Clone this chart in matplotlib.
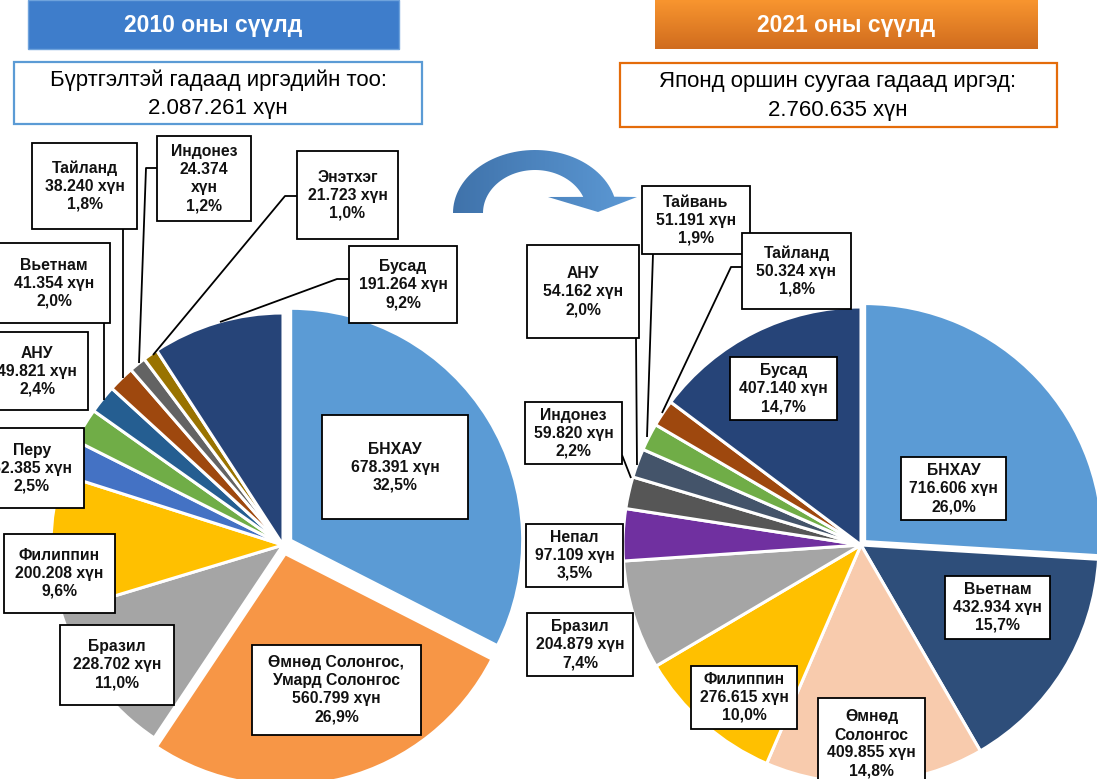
import matplotlib
matplotlib.use('Agg')
import matplotlib.pyplot as plt
from matplotlib.patches import Rectangle, PathPatch
from matplotlib.path import Path
from matplotlib.colors import LinearSegmentedColormap
import numpy as np

plt.rcParams['font.family'] = ['Liberation Sans', 'DejaVu Sans']

# ---------------- data ----------------
left_title = "2010 оны сүүлд"
left_subtitle = "Бүртгэлтэй гадаад иргэдийн тоо:"
left_total = 2087261
left_names = ["БНХАУ", "Өмнөд Солонгос,\nУмард Солонгос", "Бразил", "Филиппин", "Перу",
              "АНУ", "Вьетнам", "Тайланд", "Индонез", "Энэтхэг", "Бусад"]
left_counts = [678391, 560799, 228702, 200208, 52385, 49821, 41354, 38240, 24374, 21723, 191264]
left_pcts = ["32,5%", "26,9%", "11,0%", "9,6%", "2,5%", "2,4%", "2,0%", "1,8%", "1,2%", "1,0%", "9,2%"]

right_title = "2021 оны сүүлд"
right_subtitle = "Японд оршин суугаа гадаад иргэд:"
right_total = 2760635
right_names = ["БНХАУ", "Вьетнам", "Өмнөд\nСолонгос", "Филиппин", "Бразил", "Непал",
               "Индонез", "АНУ", "Тайвань", "Тайланд", "Бусад"]
right_counts = [716606, 432934, 409855, 276615, 204879, 97109, 59820, 54162, 51191, 50324, 407140]
right_pcts = ["26,0%", "15,7%", "14,8%", "10,0%", "7,4%", "3,5%", "2,2%", "2,0%", "1,9%", "1,8%", "14,7%"]
unit = "хүн"

# ---------------- style / layout ----------------
left_colors = ['#5B9BD5', '#F79646', '#A5A5A5', '#FFC000', '#4472C4', '#70AD47',
               '#255E91', '#9E480E', '#636363', '#997300', '#264478']
right_colors = ['#5B9BD5', '#2E4E7A', '#F8CBAD', '#FFC000', '#A5A5A5', '#7030A0',
                '#565656', '#44546A', '#70AD47', '#9E480E', '#264478']
left_explode = [9, 9, 0, 0, 0, 0, 0, 0, 0, 0, 0]
right_explode = [5, 0, 0, 0, 0, 0, 0, 0, 0, 0, 0]
# separator between count and unit (one label breaks the line there)
left_sep = [" ", " ", " ", " ", " ", " ", " ", " ", "\n", " ", " "]
right_sep = [" "] * 11

W, H = 1097, 779


def Y(py):
    return H - py


def fmt(n):
    return f"{n:,}".replace(",", ".")


# label boxes in pixel coords (x0, y0, x1, y1), y measured from top
left_boxes = [(322, 415, 468, 519), (252, 645, 421, 735), (60, 625, 174, 705),
              (4, 534, 115, 613), (-20, 428, 84, 508), (-14, 332, 88, 410),
              (-2, 243, 110, 323), (32, 143, 137, 229), (157, 136, 251, 221),
              (297, 151, 398, 239), (349, 246, 457, 323)]
right_boxes = [(901, 457, 1006, 520), (945, 576, 1050, 639), (818, 698, 925, 790),
               (691, 666, 797, 729), (527, 613, 633, 676), (526, 524, 623, 587),
               (525, 402, 622, 464), (527, 245, 639, 338), (642, 186, 750, 254),
               (742, 233, 851, 309), (730, 357, 837, 420)]
left_leaders = [[(104, 323), (104, 400)],
                [(123, 229), (123, 378)],
                [(157, 168), (146, 168), (139, 363)],
                [(297, 196), (285, 196), (153, 355)],
                [(349, 279), (337, 279), (220, 322)]]
right_leaders = [[(636, 338), (637, 465)],
                 [(653, 254), (647, 437)],
                 [(742, 267), (731, 267), (662, 413)],
                 [(622, 455), (631, 478)]]

fig = plt.figure(figsize=(W / 100, H / 100), dpi=100)
ax = fig.add_axes([0, 0, 1, 1])
ax.axis('off')

wp = dict(edgecolor='white', linewidth=2.2)
ax.pie(left_counts, colors=left_colors, startangle=90, counterclock=False,
       center=(283, Y(545)), radius=232, explode=left_explode, wedgeprops=wp)
ax.pie(right_counts, colors=right_colors, startangle=90, counterclock=False,
       center=(861, Y(545)), radius=238, explode=right_explode, wedgeprops=wp)


def draw_labels(names, counts, pcts, seps, boxes):
    for name, c, p, s, (x0, y0, x1, y1) in zip(names, counts, pcts, seps, boxes):
        ax.add_patch(Rectangle((x0, Y(y1)), x1 - x0, y1 - y0, facecolor='white',
                               edgecolor='black', linewidth=1.3, zorder=5))
        txt = f"{name}\n{fmt(c)}{s}{unit}\n{p}"
        ax.text((x0 + x1) / 2, Y((y0 + y1) / 2), txt, ha='center', va='center',
                multialignment='center', fontsize=11.3, fontweight='bold',
                linespacing=1.25, zorder=6, color='#111111')


draw_labels(left_names, left_counts, left_pcts, left_sep, left_boxes)
draw_labels(right_names, right_counts, right_pcts, right_sep, right_boxes)

for line in left_leaders + right_leaders:
    xs = [p[0] for p in line]
    ys = [Y(p[1]) for p in line]
    ax.plot(xs, ys, color='black', linewidth=1.3, zorder=4, solid_capstyle='butt')

# title boxes
ax.add_patch(Rectangle((28, Y(49)), 371, 49, facecolor='#3E7DCB', edgecolor='#6FA3DC',
                       linewidth=1.0, zorder=5))
ax.text(213, Y(25), left_title, ha='center', va='center', fontsize=16.5,
        fontweight='bold', color='white', zorder=6)

grad = np.linspace(0, 1, 100).reshape(-1, 1)
ocmap = LinearSegmentedColormap.from_list('o', ['#F8952F', '#D06C1E'])
ax.imshow(grad, cmap=ocmap, extent=[655, 1038, Y(49), Y(0)], origin='upper',
          aspect='auto', zorder=5)
ax.text(846, Y(25), right_title, ha='center', va='center', fontsize=16.5,
        fontweight='bold', color='white', zorder=6)

# subtitle boxes
ax.add_patch(Rectangle((14, Y(124)), 408, 62, facecolor='white', edgecolor='#5B9BD5',
                       linewidth=1.6, zorder=5))
ax.text(218, Y(94), f"{left_subtitle}\n{fmt(left_total)} {unit}", ha='center',
        va='center', multialignment='center', fontsize=16, linespacing=1.45,
        color='black', zorder=6)
ax.add_patch(Rectangle((620, Y(127)), 437, 64, facecolor='white', edgecolor='#E46C0A',
                       linewidth=1.6, zorder=5))
ax.text(838, Y(96), f"{right_subtitle}\n{fmt(right_total)} {unit}", ha='center',
        va='center', multialignment='center', fontsize=16, linespacing=1.45,
        color='black', zorder=6)

# curved block arrow
cx, cy = 535, 213
a_out = np.radians(np.linspace(180, 15, 60))
a_in = np.radians(np.linspace(22, 180, 60))
verts = [(cx + 82 * np.cos(a), Y(cy - 63 * np.sin(a))) for a in a_out]
verts += [(637, Y(197)), (598, Y(212)), (548, Y(197))]
verts += [(cx + 52 * np.cos(a), Y(cy - 43 * np.sin(a))) for a in a_in]
verts.append(verts[0])
codes = [Path.MOVETO] + [Path.LINETO] * (len(verts) - 2) + [Path.CLOSEPOLY]
apath = Path(verts, codes)
apatch = PathPatch(apath, facecolor='none', edgecolor='none', zorder=3)
ax.add_patch(apatch)
hgrad = np.linspace(0, 1, 100).reshape(1, -1)
bcmap = LinearSegmentedColormap.from_list('b', ['#3F72AA', '#5D9AD6'])
im = ax.imshow(hgrad, cmap=bcmap, extent=[450, 640, Y(215), Y(148)], origin='upper',
               aspect='auto', zorder=3)
im.set_clip_path(apatch)

ax.set_xlim(0, W)
ax.set_ylim(0, H)
ax.set_aspect('auto')

fig.savefig('out.png', dpi=100, facecolor='white')
